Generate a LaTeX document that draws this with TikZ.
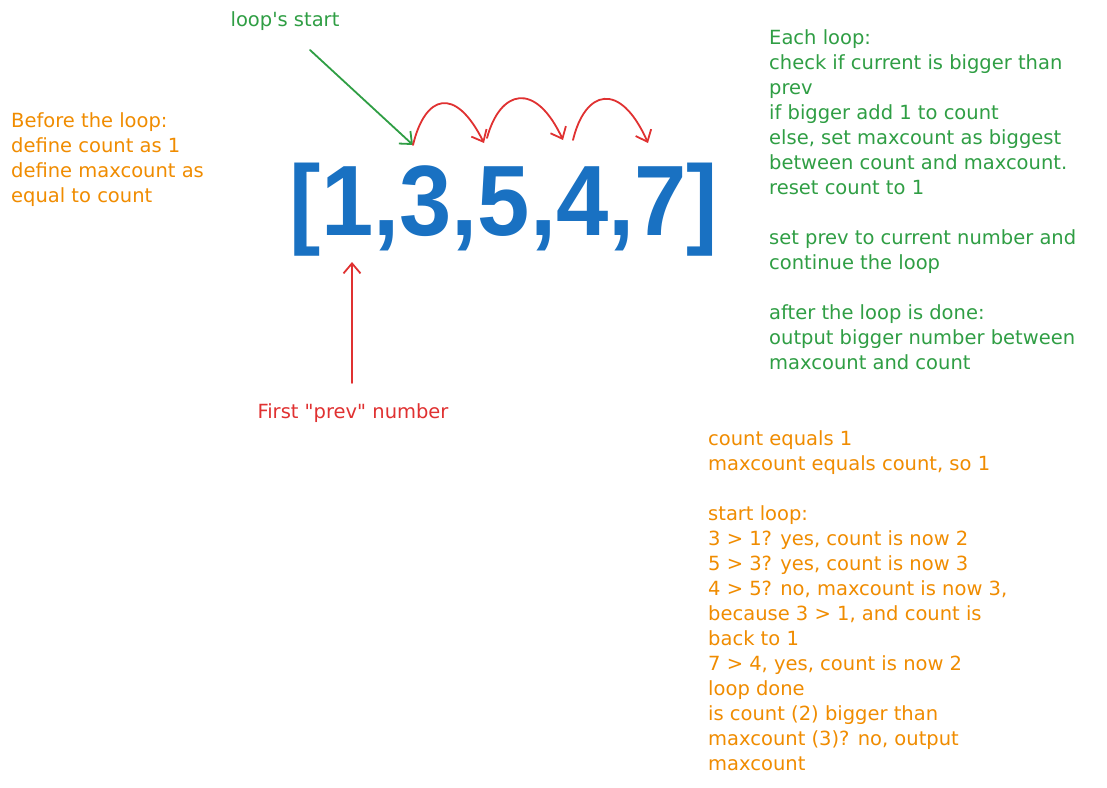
\documentclass[tikz,border=0pt]{standalone}
\usepackage{fontspec}
\setmainfont{DejaVu Sans}[Ligatures=TeXOff]
\newfontfamily\arrfont{Liberation Sans}[Ligatures=TeXOff]
\usetikzlibrary{arrows.meta}
\definecolor{exorange}{HTML}{F08C00}
\definecolor{exgreen}{HTML}{2F9E44}
\definecolor{exred}{HTML}{E03131}
\definecolor{exblue}{HTML}{1971C2}
\tikzset{
  note/.style={inner sep=0pt, anchor=north west, align=left, font=\fontsize{19.5}{25}\selectfont},
  label/.style={inner sep=0pt, font=\fontsize{19.5}{25}\selectfont},
  sketcharrow/.style={line width=1.8pt, line cap=round, -{Straight Barb[length=10pt,width=17pt,line width=1.8pt]}},
}
\begin{document}
\begin{tikzpicture}[x=1pt,y=-1pt]
\useasboundingbox (0,0) rectangle (1107,787);
\fill[white] (0,0) rectangle (1107,787);

% array
\node[text=exblue, inner sep=0pt, anchor=base, font=\arrfont\bfseries\fontsize{100}{100}\selectfont] (arr) at (504,235) {\scalebox{0.94}[1]{[1,3,5,4,7]}};

% notes
\node[note, text=exorange] (before) at (11,112) {Before the loop:\\define count as 1\\define maxcount as\\equal to count};
\node[note, text=exgreen] (each) at (769,29) {Each loop:\\check if current is bigger than\\prev\\if bigger add 1 to count\\else, set maxcount as biggest\\between count and maxcount.\\reset count to 1\\[25pt]set prev to current number and\\continue the loop\\[25pt]after the loop is done:\\output bigger number between\\maxcount and count};
\node[note, text=exorange] (trace) at (708,430) {count equals 1\\maxcount equals count, so 1\\[25pt]start loop:\\3 > 1? yes, count is now 2\\5 > 3? yes, count is now 3\\4 > 5? no, maxcount is now 3,\\because 3 > 1, and count is\\back to 1\\7 > 4, yes, count is now 2\\loop done\\is count (2) bigger than\\maxcount (3)? no, output\\maxcount};

% labels
\node[label, text=exgreen] (start) at (285,21) {loop's start};
\node[label, text=exred] (first) at (353,413) {First "prev" number};

% coordinates
\coordinate (g0) at (310,50);
\coordinate (p0) at (413,145);
\coordinate (p1) at (484,143);
\coordinate (q0) at (487,138);
\coordinate (q1) at (563,140);
\coordinate (r0) at (573,140);
\coordinate (r1) at (648,143);
\coordinate (v0) at (352,383);
\coordinate (v1) at (352,262);

% arrows
\draw[sketcharrow, exgreen] (g0) -- (p0);
\draw[sketcharrow, exred] (p0) .. controls (425,95) and (455,85) .. (p1);
\draw[sketcharrow, exred] (q0) .. controls (500,90) and (535,80) .. (q1);
\draw[sketcharrow, exred] (r0) .. controls (585,90) and (620,80) .. (r1);
\draw[sketcharrow, exred] (v0) -- (v1);
\end{tikzpicture}
\end{document}
